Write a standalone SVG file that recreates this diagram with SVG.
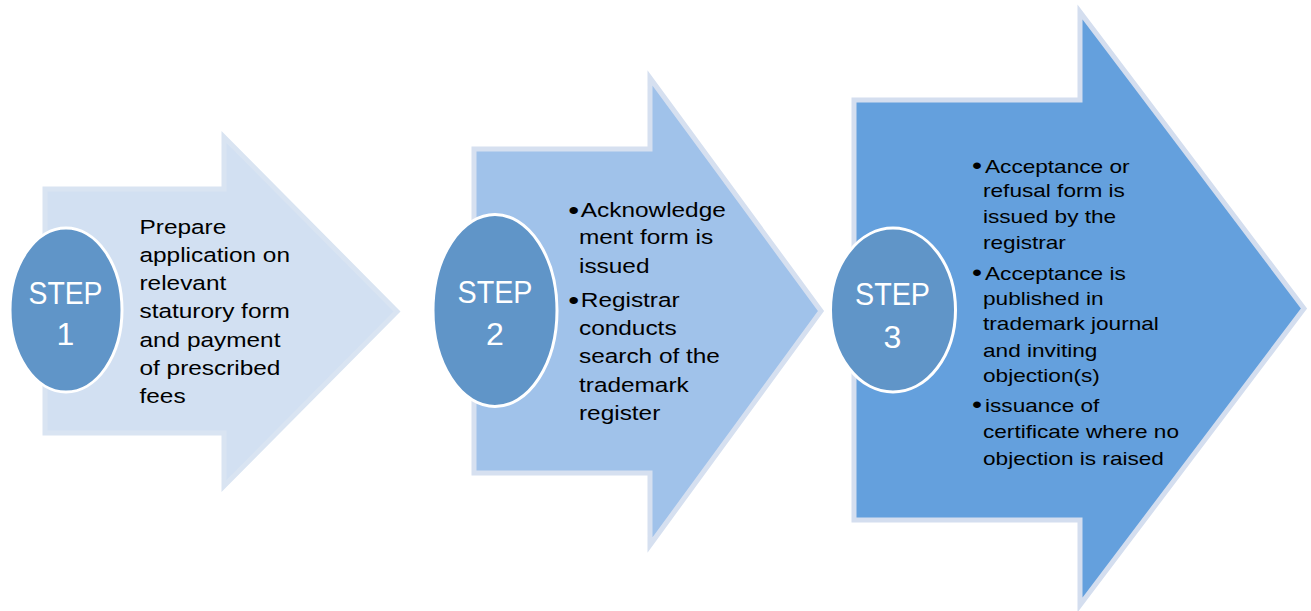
<svg xmlns="http://www.w3.org/2000/svg" width="1311" height="611" viewBox="0 0 1311 611">
  <style>
    .arrow { stroke-width: 5; stroke-linejoin: miter; }
    .a1 { fill: #d2e0f2; stroke: #d9e4f2; }
    .a2 { fill: #a0c2ea; stroke: #d6e0f0; }
    .a3 { fill: #64a0dd; stroke: #d4deef; }
    .badge { fill: #6095c8; stroke: #ffffff; stroke-width: 3; }
    .step { font-family: "Liberation Sans", Arial, sans-serif; font-size: 32px; fill: #ffffff; text-anchor: middle; }
    .body { font-family: "Liberation Sans", Arial, sans-serif; font-size: 20.5px; fill: #000000; }
    .small { font-size: 19px; }
    .bullet { font-family: "Liberation Sans", Arial, sans-serif; font-size: 26px; fill: #000000; }
  </style>
  <rect width="1311" height="611" fill="#ffffff"/>
  <g id="connectors"/>

  <g id="step1">
    <path class="arrow a1" d="M45,189 H224 V137 L397,311.5 L224,486 V433 H45 Z"/>
    <ellipse class="badge" cx="66" cy="310" rx="56" ry="82"/>
    <text class="step" x="65.5" y="304" textLength="74" lengthAdjust="spacingAndGlyphs">STEP</text>
    <text class="step" x="65.5" y="345">1</text>
    <g transform="translate(139.5 0) scale(1.19 1)">
      <text class="body" x="0" y="234.3">Prepare</text>
      <text class="body" x="0" y="262">application on</text>
      <text class="body" x="0" y="290">relevant</text>
      <text class="body" x="0" y="318.3">staturory form</text>
      <text class="body" x="0" y="346.7">and payment</text>
      <text class="body" x="0" y="375">of prescribed</text>
      <text class="body" x="0" y="403">fees</text>
    </g>
  </g>

  <g id="step2">
    <path class="arrow a2" d="M474,149 H650 V78 L821,311 L650,545 V473 H474 Z"/>
    <ellipse class="badge" cx="495" cy="310.5" rx="62" ry="96"/>
    <text class="step" x="495" y="303" textLength="75" lengthAdjust="spacingAndGlyphs">STEP</text>
    <text class="step" x="495" y="345">2</text>
    <g transform="translate(579 0) scale(1.19 1)">
      <text class="bullet" x="-9" y="219">•</text>
      <text class="body" x="1.5" y="217.3">Acknowledge</text>
      <text class="body" x="0" y="244.5">ment form is</text>
      <text class="body" x="0" y="272.7">issued</text>
      <text class="bullet" x="-9" y="308.7">•</text>
      <text class="body" x="1.5" y="307">Registrar</text>
      <text class="body" x="0" y="335">conducts</text>
      <text class="body" x="0" y="363.5">search of the</text>
      <text class="body" x="0" y="392.5">trademark</text>
      <text class="body" x="0" y="420.5">register</text>
    </g>
  </g>

  <g id="step3">
    <path class="arrow a3" d="M854,100 H1080 V12 L1304,308.5 L1080,605 V520 H854 Z"/>
    <ellipse class="badge" cx="893" cy="310" rx="62.5" ry="82"/>
    <text class="step" x="892.5" y="305" textLength="75" lengthAdjust="spacingAndGlyphs">STEP</text>
    <text class="step" x="892.5" y="348">3</text>
    <g transform="translate(983 0) scale(1.19 1)">
      <text class="bullet" x="-9.2" y="174.2" style="font-size:24px">•</text>
      <text class="body small" x="1.7" y="172.7">Acceptance or</text>
      <text class="body small" x="0" y="197">refusal form is</text>
      <text class="body small" x="0" y="223.3">issued by the</text>
      <text class="body small" x="0" y="249.3">registrar</text>
      <text class="bullet" x="-9.2" y="281.5" style="font-size:24px">•</text>
      <text class="body small" x="1.7" y="280">Acceptance is</text>
      <text class="body small" x="0" y="305.3">published in</text>
      <text class="body small" x="0" y="330.5">trademark journal</text>
      <text class="body small" x="0" y="356.7">and inviting</text>
      <text class="body small" x="0" y="382.3">objection(s)</text>
      <text class="bullet" x="-9.2" y="413.2" style="font-size:24px">•</text>
      <text class="body small" x="1.7" y="411.7">issuance of</text>
      <text class="body small" x="0" y="438.3">certificate where no</text>
      <text class="body small" x="0" y="465">objection is raised</text>
    </g>
  </g>
</svg>
